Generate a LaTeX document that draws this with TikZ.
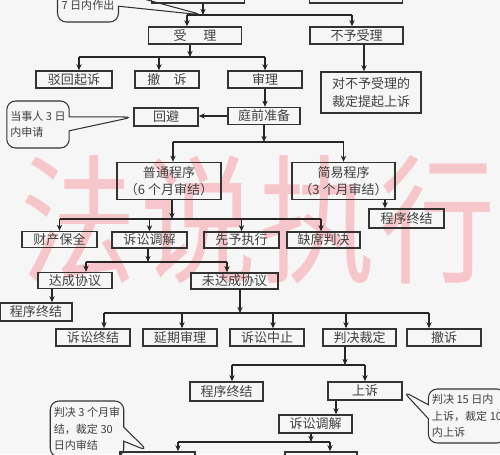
\documentclass[tikz,border=0pt]{standalone}
\usepackage{fontspec}
\newfontfamily\cjk{Noto Sans CJK SC}
\usetikzlibrary{arrows.meta, shapes.callouts}
\tikzset{>={Stealth[length=3.5pt,width=3pt]}}
\definecolor{bgcol}{RGB}{246,246,246}
\definecolor{markcol}{RGB}{247,198,202}
\tikzset{
  box/.style={draw=black!80, line width=0.8pt, inner sep=1pt, minimum height=0.34cm,
    font=\cjk\fontsize{7.4}{10}\selectfont, text=black!75},
  note/.style={rectangle callout, rounded corners=5pt, draw=black!80, line width=0.6pt,
    align=left, inner sep=2pt, callout pointer width=0.28cm,
    font=\cjk\fontsize{6.3}{9.3}\selectfont, text=black!75},
  link/.style={draw=black!85, line width=0.6pt}
}

\begin{document}
\begin{tikzpicture}[x=0.02cm, y=-0.02cm]
	\fill [bgcol] (0,0) rectangle (500,454);
	\clip (0,0) rectangle (500,454);
	\node (mark) at (258,220) [text=markcol, font=\cjk\fontsize{66}{66}\selectfont, yscale=1.2, transform shape] {法\hspace{2pt}说\hspace{2pt}执\hspace{2pt}行};

	\node (topA) at (198,-8) [box, minimum width=1.86cm, minimum height=0.44cm] {};
	\node (topB) at (356,-8) [box, minimum width=1.86cm, minimum height=0.44cm] {};
	\coordinate (j1) at (203,15);
	\node (co7) at (88,5) [note, minimum width=1.22cm, minimum height=0.68cm, callout absolute pointer=(j1)] {7 日内作出};

	\node (accept) at (195,35.5) [box, minimum width=1.86cm] {受\hspace{1.3em}理};
	\node (reject) at (356.5,35.5) [box, minimum width=1.86cm] {不予受理};
	\node (dismiss) at (74,79.5) [box, minimum width=1.52cm] {驳回起诉};
	\node (withdrawA) at (167,79.5) [box, minimum width=1.28cm] {撤\hspace{1em}诉};
	\node (trial) at (265,79.5) [box, minimum width=1.48cm] {审理};
	\node (appealR) at (371,92.5) [box, minimum width=2cm, minimum height=0.82cm, align=center] {对不予受理的\\裁定提起上诉};
	\node (prep) at (264,116) [box, minimum width=1.44cm] {庭前准备};
	\node (avoid) at (166,117) [box, minimum width=1.28cm, minimum height=0.36cm] {回避};
	\node (co3) at (38,124.5) [note, minimum width=1.2cm, minimum height=0.94cm, callout absolute pointer=(avoid.west)] {当事人 3 日\\内申请};

	\node (normal) at (169,181) [box, minimum width=2.08cm, minimum height=0.74cm, align=center] {普通程序\\（6 个月审结）};
	\node (simple) at (343.5,181) [box, minimum width=2.06cm, minimum height=0.74cm, align=center] {简易程序\\（3 个月审结）};
	\node (endA) at (406.5,218.5) [box, minimum width=1.5cm, minimum height=0.38cm] {程序终结};
	\node (preserve) at (59.5,239.5) [box, minimum width=1.5cm, minimum height=0.32cm] {财产保全};
	\node (mediateA) at (149.5,240) [box, minimum width=1.5cm, minimum height=0.32cm] {诉讼调解};
	\node (advance) at (241.5,240) [box, minimum width=1.5cm, minimum height=0.32cm] {先予执行};
	\node (absent) at (323.5,240) [box, minimum width=1.46cm, minimum height=0.32cm] {缺席判决};
	\node (agree) at (75,280.5) [box, minimum width=1.48cm, minimum height=0.32cm] {达成协议};
	\node (noagree) at (234.5,281) [box, minimum width=1.74cm, minimum height=0.32cm] {未达成协议};
	\node (endB) at (36,312) [box, minimum width=1.44cm, minimum height=0.36cm] {程序终结};

	\node (term) at (93,337.5) [box, minimum width=1.48cm] {诉讼终结};
	\node (delay) at (180,337.5) [box, minimum width=1.48cm] {延期审理};
	\node (suspend) at (267,337.5) [box, minimum width=1.48cm] {诉讼中止};
	\node (judge) at (359.5,337.5) [box, minimum width=1.46cm] {判决裁定};
	\node (withdrawB) at (444,337.5) [box, minimum width=1.48cm] {撤诉};
	\node (endC) at (226.5,391.5) [box, minimum width=1.46cm, minimum height=0.38cm] {程序终结};
	\node (appeal) at (365,391) [box, minimum width=1.48cm, minimum height=0.36cm] {上诉};
	\node (co15) at (467,416) [note, minimum width=1.48cm, minimum height=1.08cm, callout absolute pointer=(appeal.east)] {判决 15 日内\\上诉，裁定 10\\内上诉};
	\node (mediateB) at (315.5,424) [box, minimum width=1.46cm, minimum height=0.36cm] {诉讼调解};
	\node (botL) at (157.5,461) [box, minimum width=1.5cm, minimum height=0.36cm] {};
	\node (botR) at (321,461) [box, minimum width=1.44cm, minimum height=0.36cm] {};
	\coordinate (p30) at (148,451);
	\node (co30) at (87,429) [note, minimum width=1.4cm, minimum height=1.12cm, callout absolute pointer=(p30)] {判决 3 个月审\\结，裁定 30\\日内审结};

	\draw [link, ->] (topA.south -| j1) -- (j1);
	\draw [link] ([xshift=-0.16cm]accept.north |- j1) -- ([xshift=-0.09cm]reject.north |- j1);
	\foreach \n/\s in {accept/-0.16, reject/-0.09}
	\draw [link, ->] ([xshift=\s cm]\n.north |- j1) -- ([xshift=\s cm]\n.north);

	\coordinate (b2) at (190,57);
	\draw [link, ->] (accept.south -| b2) -- (b2);
	\draw [link] ([xshift=0.1cm]dismiss.north |- b2) -- (trial.north |- b2);
	\foreach \n/\s in {dismiss/0.1, withdrawA/-0.16, trial/0}
	\draw [link, ->] ([xshift=\s cm]\n.north |- b2) -- ([xshift=\s cm]\n.north);
	\draw [link, ->] ([xshift=0.15cm]reject.south) -- ([xshift=0.15cm]reject.south |- appealR.north);
	\draw [link, ->] (trial.south) -- (trial.south |- prep.north);
	\draw [link, ->] (prep.west) -- (prep.west -| avoid.east);

	\coordinate (b3) at (264,142);
	\draw [link, ->] (prep.south -| b3) -- (b3);
	\draw [link] ([xshift=0.08cm]normal.north |- b3) -- (simple.north |- b3);
	\foreach \n/\s in {normal/0.08, simple/0}
	\draw [link, ->] ([xshift=\s cm]\n.north |- b3) -- ([xshift=\s cm]\n.north);
	\draw [link, ->] ([xshift=0.83cm]simple.south) -- ([xshift=0.83cm]simple.south |- endA.north);

	\coordinate (b4) at (172,219);
	\draw [link, ->] (normal.south -| b4) -- (b4);
	\draw [link] (preserve.north |- b4) -- ([xshift=-0.05cm]absent.north |- b4);
	\foreach \n/\s in {preserve/0, mediateA/0, advance/0, absent/-0.05}
	\draw [link, ->] ([xshift=\s cm]\n.north |- b4) -- ([xshift=\s cm]\n.north);

	\coordinate (b5) at (148,262);
	\draw [link, ->] (mediateA.south -| b5) -- (b5);
	\draw [link] ([xshift=0.22cm]agree.north |- b5) -- ([xshift=-0.15cm]noagree.north |- b5);
	\foreach \n/\s in {agree/0.22, noagree/-0.15}
	\draw [link, ->] ([xshift=\s cm]\n.north |- b5) -- ([xshift=\s cm]\n.north);
	\draw [link, ->] ([xshift=-0.46cm]agree.south) -- ([xshift=-0.46cm]agree.south |- endB.north);

	\coordinate (b6) at (240,313);
	\draw [link, ->] (noagree.south -| b6) -- (b6);
	\draw [link] ([xshift=0.22cm]term.north |- b6) -- ([xshift=-0.3cm]withdrawB.north |- b6);
	\foreach \n/\s in {term/0.22, delay/0.04, suspend/0.12, judge/-0.27, withdrawB/-0.3}
	\draw [link, ->] ([xshift=\s cm]\n.north |- b6) -- ([xshift=\s cm]\n.north);

	\coordinate (b7) at (345,365);
	\draw [link, ->] (judge.south -| b7) -- (b7);
	\draw [link] ([xshift=0.11cm]endC.north |- b7) -- (appeal.north |- b7);
	\foreach \n/\s in {endC/0.11, appeal/0}
	\draw [link, ->] ([xshift=\s cm]\n.north |- b7) -- ([xshift=\s cm]\n.north);
	\draw [link, ->] ([xshift=-0.58cm]appeal.south) -- ([xshift=-0.58cm]appeal.south |- mediateB.north);

	\coordinate (b8) at (311,442);
	\draw [link, ->] (mediateB.south -| b8) -- (b8);
	\draw [link] ([xshift=0.41cm]botL.north |- b8) -- ([xshift=0.18cm]botR.north |- b8);
	\foreach \n/\s in {botL/0.41, botR/0.18}
	\draw [link, ->] ([xshift=\s cm]\n.north |- b8) -- ([xshift=\s cm]\n.north);
\end{tikzpicture}
\end{document}
